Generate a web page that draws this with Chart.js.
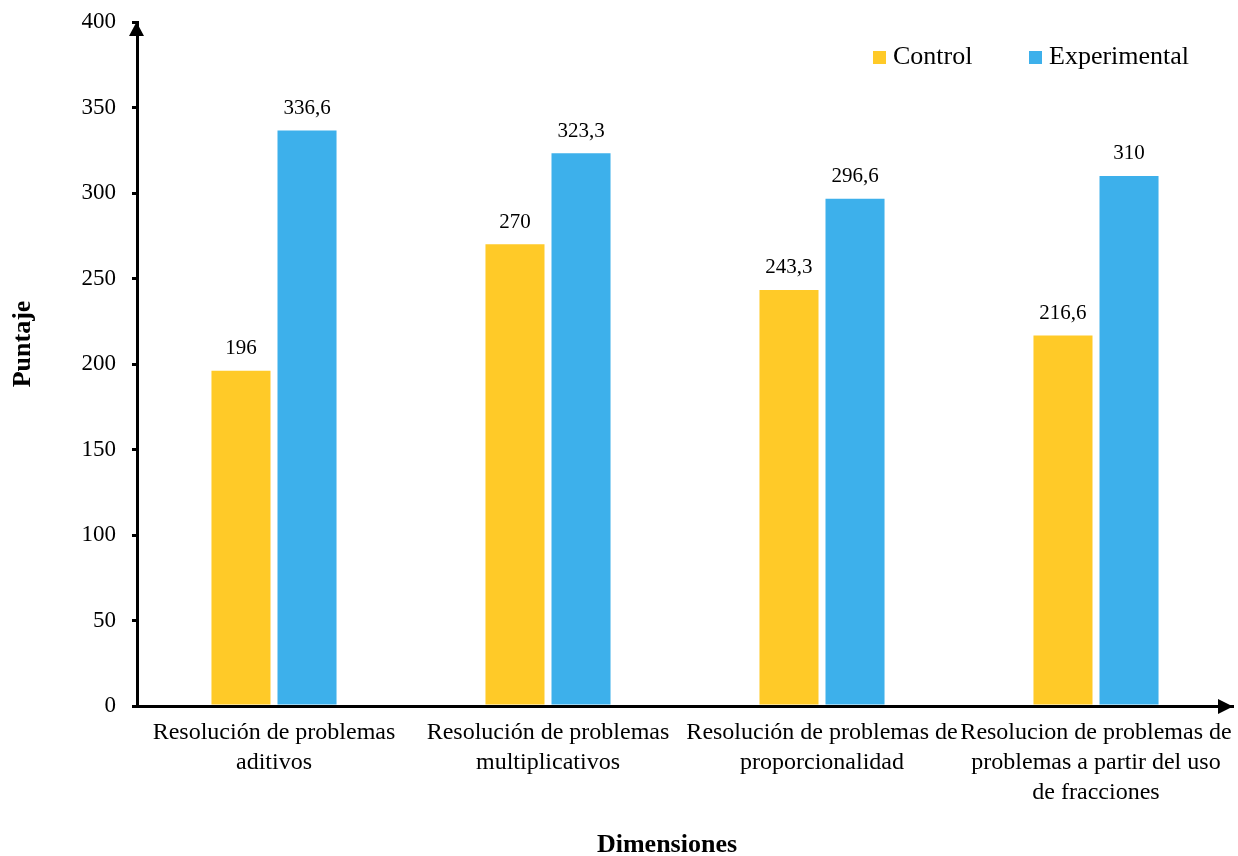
<!DOCTYPE html>
<html>
<head>
<meta charset="utf-8">
<script src="https://cdn.jsdelivr.net/npm/chart.js@4"></script>
<style>
  html, body { margin: 0; padding: 0; background: #fff; }
</style>
</head>
<body>
<canvas id="myChart" width="1238" height="856"></canvas>
<script>
const categories = [
  ['Resolución de problemas', 'aditivos'],
  ['Resolución de problemas', 'multiplicativos'],
  ['Resolución de problemas de', 'proporcionalidad'],
  ['Resolucion de problemas de', 'problemas a partir del uso', 'de fracciones']
]
const seriesNames = ['Control', 'Experimental']
const controlValues = [196, 270, 243.3, 216.6]
const experimentalValues = [336.6, 323.3, 296.6, 310]
const yMin = 0
const yMax = 400
const yStep = 50
const xTitle = 'Dimensiones'
const yTitle = 'Puntaje'

const serif = "'Liberation Serif', 'Times New Roman', serif"
const colors = ['#FFCA28', '#3DB0EB']

// axis arrows, value labels, legend and axis titles
const decorations = {
  id: 'decorations',
  afterDatasetsDraw(chart) {
    const ctx = chart.ctx
    const area = chart.chartArea

    ctx.save()
    ctx.fillStyle = '#000'
    // arrow on top of y axis
    ctx.beginPath()
    ctx.moveTo(area.left - 0.5, area.top)
    ctx.lineTo(area.left - 8, area.top + 14)
    ctx.lineTo(area.left + 7, area.top + 14)
    ctx.closePath()
    ctx.fill()
    // arrow at end of x axis
    ctx.beginPath()
    ctx.moveTo(area.right, area.bottom + 0.5)
    ctx.lineTo(area.right - 15, area.bottom - 7)
    ctx.lineTo(area.right - 15, area.bottom + 8)
    ctx.closePath()
    ctx.fill()

    // value labels above bars
    ctx.font = '21px ' + serif
    ctx.textAlign = 'center'
    ctx.textBaseline = 'middle'
    chart.data.datasets.forEach((ds, i) => {
      chart.getDatasetMeta(i).data.forEach((bar, j) => {
        ctx.fillText(String(ds.data[j]).replace('.', ','), bar.x, bar.y - 22)
      })
    })

    // legend
    const legendX = [873, 1029]
    ctx.font = '26px ' + serif
    ctx.textAlign = 'left'
    chart.data.datasets.forEach((ds, i) => {
      const x = legendX[i]
      ctx.fillStyle = ds.backgroundColor
      ctx.fillRect(x, 51, 13, 13)
      ctx.fillStyle = '#000'
      ctx.fillText(ds.label, x + 20, 57)
    })

    // axis titles
    ctx.font = 'bold 26px ' + serif
    ctx.textAlign = 'center'
    ctx.fillText(xTitle, 667, 845)
    ctx.translate(23, 344)
    ctx.rotate(-Math.PI / 2)
    ctx.fillText(yTitle, 0, 0)
    ctx.restore()
  }
}

function fitX(scale) {
  scale.height = 150
  scale.paddingLeft = 0
  scale.paddingRight = 0
}

function fitY(scale) {
  scale.width = 137
  scale.paddingTop = 0
  scale.paddingBottom = 0
}

const ctx = document.getElementById('myChart').getContext('2d')
const myChart = new Chart(ctx, {
  type: 'bar',
  data: {
    labels: categories,
    datasets: [
      {
        label: seriesNames[0],
        data: controlValues,
        backgroundColor: colors[0],
        categoryPercentage: 0.482,
        barPercentage: 0.894
      },
      {
        label: seriesNames[1],
        data: experimentalValues,
        backgroundColor: colors[1],
        categoryPercentage: 0.482,
        barPercentage: 0.894
      }
    ]
  },
  options: {
    responsive: false,
    animation: false,
    devicePixelRatio: 1,
    layout: {
      padding: { top: 22, right: 5, left: 0, bottom: 0 }
    },
    plugins: {
      legend: { display: false },
      tooltip: { enabled: false }
    },
    scales: {
      x: {
        afterFit: fitX,
        border: { display: true, width: 3, color: '#000' },
        grid: { display: false, drawTicks: false },
        ticks: {
          color: '#000',
          padding: 12,
          maxRotation: 0,
          autoSkip: false,
          font: { family: serif, size: 24, lineHeight: 1.24 }
        }
      },
      y: {
        min: yMin,
        max: yMax,
        afterFit: fitY,
        border: { display: true, width: 3, color: '#000' },
        grid: {
          drawOnChartArea: false,
          drawTicks: true,
          tickLength: 5,
          lineWidth: 3,
          color: '#000'
        },
        ticks: {
          stepSize: yStep,
          color: '#000',
          padding: 16,
          font: { family: serif, size: 23 }
        }
      }
    }
  },
  plugins: [decorations]
})
</script>
</body>
</html>
